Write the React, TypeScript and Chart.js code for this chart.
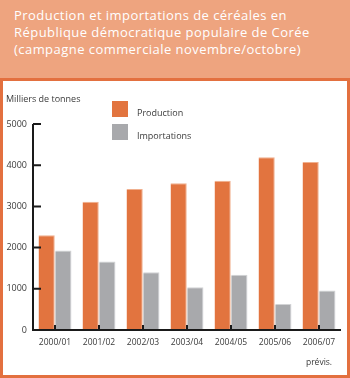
import React, { useEffect, useRef } from "react";
import { Chart, registerables } from "chart.js";

Chart.register(...registerables);

const titleLines = [
  "Production et importations de céréales en",
  "République démocratique populaire de Corée",
  "(campagne commerciale novembre/octobre)",
];
const unitLabel = "Milliers de tonnes";
const campaigns = ["2000/01", "2001/02", "2002/03", "2003/04", "2004/05", "2005/06", "2006/07"];
const forecastNote = "prévis.";
const seriesNames = ["Production", "Importations"];
const production = [2300, 3110, 3420, 3560, 3620, 4190, 4080];
const imports = [1930, 1660, 1400, 1040, 1340, 630, 960];
const yMax = 5000;
const yStep = 1000;

const FONT = "'Open Sans', 'DejaVu Sans', sans-serif";
const TEXT = "#3a3a3a";
const ORANGE = "#E2743F";
const GRAY = "#A8A9AC";

const decorPlugin = {
  id: "decor",
  afterDatasetsDraw(chart: any) {
    const { ctx, chartArea, scales } = chart;
    const x = scales.x;
    const y = scales.y;
    ctx.save();
    ctx.strokeStyle = "#1a1a1a";
    ctx.lineWidth = 2;
    ctx.beginPath();
    ctx.moveTo(chartArea.left, chartArea.top);
    ctx.lineTo(chartArea.left, chartArea.bottom);
    ctx.lineTo(chartArea.right, chartArea.bottom);
    ctx.stroke();
    ctx.beginPath();
    y.ticks.forEach((t: any) => {
      const py = y.getPixelForValue(t.value);
      ctx.moveTo(chartArea.left, py);
      ctx.lineTo(chartArea.left + 8, py);
    });
    for (let i = 0; i < chart.data.labels.length; i++) {
      const px = x.getPixelForValue(i);
      ctx.moveTo(px, chartArea.bottom);
      ctx.lineTo(px, chartArea.bottom - 5);
    }
    ctx.stroke();
    ctx.restore();
  },
  afterDraw(chart: any) {
    const { ctx } = chart;
    ctx.save();
    ctx.fillStyle = TEXT;
    ctx.font = `9px ${FONT}`;
    ctx.textBaseline = "alphabetic";
    ctx.textAlign = "left";
    ctx.fillText(unitLabel, 6, 102);
    chart.data.datasets.forEach((ds: any, i: number) => {
      const top = 101 + i * 23;
      ctx.fillStyle = ds.backgroundColor;
      ctx.fillRect(112, top, 16, 16);
      ctx.fillStyle = TEXT;
      ctx.fillText(ds.label, 137, top + 15);
    });
    ctx.restore();
  },
};

export default function App() {
  const ref = useRef<HTMLCanvasElement>(null);
  useEffect(() => {
    if (!ref.current) return;
    const labels: any[] = campaigns.map((c, i) =>
      i === campaigns.length - 1 ? [c, forecastNote] : c
    );
    const chart = new Chart(ref.current, {
      type: "bar",
      data: {
        labels,
        datasets: [
          {
            label: seriesNames[0],
            data: production,
            backgroundColor: ORANGE,
            borderColor: "#F0B08F",
            borderWidth: { top: 1, right: 1, left: 0, bottom: 0 },
            categoryPercentage: 0.76,
            barPercentage: 0.97,
          },
          {
            label: seriesNames[1],
            data: imports,
            backgroundColor: GRAY,
            borderColor: "#D2D3D5",
            borderWidth: { top: 1, right: 1, left: 0, bottom: 0 },
            categoryPercentage: 0.76,
            barPercentage: 0.97,
          },
        ],
      },
      plugins: [decorPlugin],
      options: {
        responsive: false,
        animation: false,
        devicePixelRatio: 1,
        layout: { padding: { top: 124, right: 9, left: 0, bottom: 0 } },
        plugins: {
          legend: { display: false },
          title: { display: false },
          tooltip: { enabled: false },
        },
        scales: {
          x: {
            grid: { display: false, drawTicks: false },
            border: { display: false },
            ticks: {
              color: TEXT,
              font: { family: FONT, size: 8.5, lineHeight: 2.3 },
              padding: 3,
              maxRotation: 0,
              autoSkip: false,
            },
            afterFit: (s: any) => {
              s.height = 48;
            },
          },
          y: {
            min: 0,
            max: yMax,
            grid: { display: false, drawTicks: false },
            border: { display: false },
            ticks: {
              stepSize: yStep,
              color: TEXT,
              font: { family: FONT, size: 9 },
              padding: 6,
              callback: (v: any) => String(v),
            },
            afterFit: (s: any) => {
              s.width = 33;
            },
          },
        },
      },
    });
    return () => chart.destroy();
  }, []);

  return (
    <div
      style={{
        position: "fixed",
        left: 0,
        top: 0,
        width: 350,
        height: 378,
        background: "#fff",
        overflow: "hidden",
      }}
    >
      <div
        style={{
          position: "absolute",
          left: 0,
          top: 0,
          width: 350,
          height: 79,
          background: "#EEA47F",
          color: "#fff",
          fontFamily: FONT,
          fontSize: 13,
          letterSpacing: "0.45px",
          lineHeight: "17px",
          boxSizing: "border-box",
          padding: "7px 0 0 14px",
        }}
      >
        {titleLines.map((t, i) => (
          <div key={i} style={{ whiteSpace: "nowrap" }}>
            {t}
          </div>
        ))}
      </div>
      <div
        style={{
          position: "absolute",
          left: 0,
          top: 78,
          width: 350,
          height: 300,
          border: "3px solid #E3703F",
          boxSizing: "border-box",
        }}
      />
      <canvas
        ref={ref}
        width={350}
        height={378}
        style={{ position: "absolute", left: 0, top: 0, width: 350, height: 378 }}
      />
    </div>
  );
}
